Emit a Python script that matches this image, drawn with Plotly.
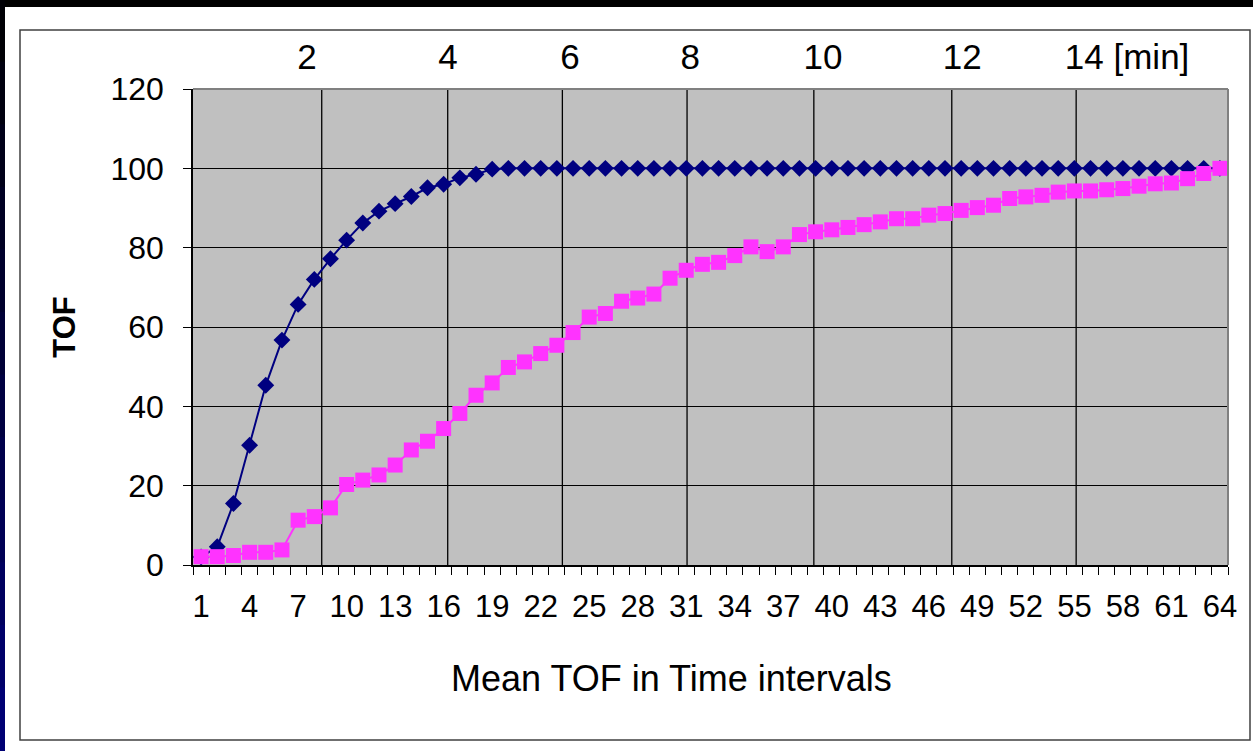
import plotly.graph_objects as go

# ---------------- data ----------------
intervals = list(range(1, 65))
series_blue = [2.0, 4.6, 15.5, 30.2, 45.3, 56.7, 65.7, 72.0, 77.2, 81.9,
               86.2, 89.2, 91.1, 92.9, 95.1, 96.0, 97.6, 98.5, 99.8] + [100.0] * 45
series_magenta = [2.1, 2.1, 2.4, 3.2, 3.2, 3.8, 11.3, 12.2, 14.4, 20.3,
                  21.4, 22.7, 25.2, 29.0, 31.2, 34.4, 38.2, 42.8, 45.9, 49.8,
                  51.2, 53.3, 55.4, 58.6, 62.5, 63.4, 66.5, 67.3, 68.3, 72.3,
                  74.3, 75.8, 76.3, 78.0, 80.2, 79.0, 80.2, 83.3, 84.0, 84.5,
                  85.1, 85.8, 86.5, 87.3, 87.3, 88.2, 88.6, 89.4, 90.1, 90.7,
                  92.4, 92.8, 93.2, 94.0, 94.3, 94.3, 94.6, 94.9, 95.5, 96.1,
                  96.3, 97.4, 98.7, 100.0]
x_tick_labels = list(range(1, 65, 3))
y_ticks = [0, 20, 40, 60, 80, 100, 120]
# minute marks (position on the interval axis) and top labels
minute_grid_pos = [8.46, 16.25, 23.34, 31.05, 38.89, 47.42, 55.11]
minute_label_pos = [7.55, 16.27, 23.81, 31.24, 39.46, 48.06, 58.26]
minute_labels = ["2", "4", "6", "8", "10", "12", "14 [min]"]
x_title = "Mean TOF in Time intervals"
y_title = "TOF"

# ---------------- geometry helpers (decoration only) ----------------
W, H = 1253, 751
L, R, T, B = 193, 1228, 89, 565


def px(x):
    return (x - L) / (R - L)


def py(y):
    return (B - y) / (B - T)


FONT = "Liberation Sans, Arial, sans-serif"

fig = go.Figure()
fig.add_trace(go.Scatter(
    x=intervals, y=series_blue, mode="lines+markers",
    line=dict(color="#000080", width=2),
    marker=dict(symbol="diamond", size=13, color="#000080"),
    showlegend=False, cliponaxis=False))
fig.add_trace(go.Scatter(
    x=intervals, y=series_magenta, mode="lines+markers",
    line=dict(color="#FF33FF", width=2),
    marker=dict(symbol="square", size=15, color="#FF33FF"),
    showlegend=False, cliponaxis=False))
# invisible trace to activate the top axis
fig.add_trace(go.Scatter(x=[intervals[0]], y=[0], xaxis="x2", mode="markers",
                         marker=dict(opacity=0), showlegend=False, hoverinfo="skip"))

shapes = []
# slide background strips
shapes.append(dict(type="rect", xref="paper", yref="paper",
                   x0=px(0), x1=px(W), y0=py(7), y1=py(0),
                   fillcolor="black", line=dict(width=0), layer="below"))
nseg = 12
for i in range(nseg):
    y0 = i * H / nseg - 1
    y1 = (i + 1) * H / nseg + 1
    c = int(round(120 * (i + 0.5) / nseg))
    shapes.append(dict(type="rect", xref="paper", yref="paper",
                       x0=px(-1), x1=px(5), y0=py(y1), y1=py(y0),
                       fillcolor=f"rgb(0,0,{c})", line=dict(width=0), layer="below"))
# chart border
shapes.append(dict(type="rect", xref="paper", yref="paper",
                   x0=px(20), x1=px(1250), y0=py(740), y1=py(30),
                   line=dict(color="#404040", width=1.5), layer="below"))
# minute grid lines
for g in minute_grid_pos:
    shapes.append(dict(type="line", xref="x", yref="y", x0=g, x1=g, y0=0, y1=120,
                       line=dict(color="black", width=1.3), layer="below"))
# plot area top/right edges (gray)
shapes.append(dict(type="line", xref="paper", yref="paper", x0=0, x1=1, y0=1, y1=1,
                   line=dict(color="#808080", width=2), layer="above"))
shapes.append(dict(type="line", xref="paper", yref="paper", x0=1, x1=1, y0=0, y1=1,
                   line=dict(color="#808080", width=2), layer="above"))

annotations = [
    dict(text=x_title, xref="paper", yref="paper", x=px(671), y=py(678),
         xanchor="center", yanchor="middle", showarrow=False,
         font=dict(size=36, family=FONT, color="black")),
]

fig.update_layout(
    width=W, height=H,
    margin=dict(l=L, r=W - R, t=T, b=H - B, autoexpand=False),
    paper_bgcolor="white", plot_bgcolor="#C0C0C0",
    font=dict(family=FONT, color="black"),
    shapes=shapes,
    annotations=annotations,
    xaxis=dict(
        range=[0.5, 64.5], tickmode="array", tickvals=x_tick_labels,
        ticktext=[str(v) for v in x_tick_labels], ticks="",
        tickfont=dict(size=31, family=FONT, color="black"),
        ticklabelstandoff=13,
        showline=True, linecolor="black", linewidth=1.5,
        showgrid=False, zeroline=False,
        minor=dict(tickmode="array", tickvals=[i + 0.5 for i in range(0, 65)],
                   ticks="outside", ticklen=8, tickcolor="black", tickwidth=1,
                   showgrid=False),
    ),
    xaxis2=dict(
        overlaying="x", side="top", range=[0.5, 64.5],
        tickmode="array", tickvals=minute_label_pos, ticktext=minute_labels,
        ticks="", showgrid=False, showline=False, zeroline=False,
        tickfont=dict(size=35, family=FONT, color="black"),
        ticklabelstandoff=12,
    ),
    yaxis=dict(
        range=[0, 120], tickmode="array", tickvals=y_ticks,
        ticks="outside", ticklen=8, tickcolor="black", tickwidth=1.2,
        tickfont=dict(size=32, family=FONT, color="black"),
        ticklabelstandoff=13,
        showline=True, linecolor="black", linewidth=1.5,
        showgrid=True, gridcolor="black", gridwidth=1.3, zeroline=False,
        title=dict(text=f"<b>{y_title}</b>",
                   font=dict(size=31, family=FONT, color="black"), standoff=26),
    ),
)

fig.write_html(
    "out.html",
    config={"displayModeBar": False},
    post_script="document.body.style.margin='0';document.body.style.padding='0';"
                "document.body.style.overflow='hidden';",
)
